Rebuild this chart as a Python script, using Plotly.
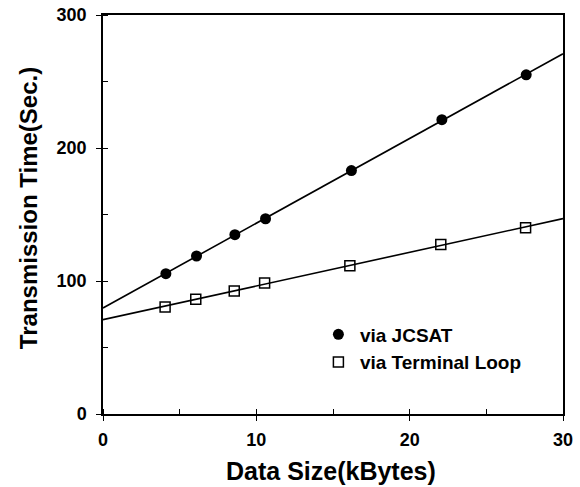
import numpy as np
import plotly.graph_objects as go

# Data
data_size = [4.1, 6.1, 8.6, 10.6, 16.2, 22.1, 27.6]             # kBytes
jcsat_time = [105.5, 118.8, 134.8, 146.8, 183.0, 221.3, 255.0]  # sec
loop_size = [4.05, 6.05, 8.56, 10.54, 16.1, 22.03, 27.56]
loop_time = [80.5, 86.3, 92.5, 98.5, 111.5, 127.5, 140.0]

x_range = [0, 30]
y_range = [0, 300]
x_ticks = [0, 10, 20, 30]
y_ticks = [0, 100, 200, 300]

FONT = "Liberation Sans, Arial, Helvetica, sans-serif"

# linear regression lines
jc_fit = np.polyfit(data_size, jcsat_time, 1)
lp_fit = np.polyfit(loop_size, loop_time, 1)
fit_x = np.array(x_range, dtype=float)

fig = go.Figure()
fig.add_trace(go.Scatter(x=fit_x, y=np.polyval(jc_fit, fit_x), mode="lines",
                         line=dict(color="black", width=1.6), showlegend=False,
                         hoverinfo="skip"))
fig.add_trace(go.Scatter(x=fit_x, y=np.polyval(lp_fit, fit_x), mode="lines",
                         line=dict(color="black", width=1.6), showlegend=False,
                         hoverinfo="skip"))
fig.add_trace(go.Scatter(x=data_size, y=jcsat_time, mode="markers", name="<b>via JCSAT</b>",
                         marker=dict(symbol="circle", size=11, color="black",
                                     line=dict(color="black", width=0))))
fig.add_trace(go.Scatter(x=loop_size, y=loop_time, mode="markers", name="<b>via Terminal Loop</b>",
                         marker=dict(symbol="square-open", size=10, color="black",
                                     line=dict(color="black", width=1.5))))

axis_common = dict(
    automargin=False,
    showgrid=False, zeroline=False, showline=True, linecolor="black", linewidth=1.5,
    mirror=True, ticks="outside", ticklen=5, tickwidth=1.2, tickcolor="black",
    tickfont=dict(family=FONT, size=18, color="black", weight="bold"),
)

fig.update_xaxes(range=x_range, tickvals=x_ticks, ticklabelstandoff=4,
                 minor=dict(ticks="inside", ticklen=5, tickwidth=1.2, tickcolor="black", dtick=5),
                 **axis_common)
fig.update_yaxes(range=y_range, tickvals=y_ticks, ticklabelstandoff=6,
                 minor=dict(ticks="inside", ticklen=5, tickwidth=1.2, tickcolor="black", dtick=50),
                 **axis_common)

fig.add_annotation(text="<b>Data Size(kBytes)</b>", xref="paper", yref="paper",
                   x=0.495, y=-0.142, xanchor="center", yanchor="middle",
                   showarrow=False, font=dict(family=FONT, size=25, color="black", weight="bold"))
fig.add_annotation(text="<b>Transmission Time(Sec.)</b>", xref="paper", yref="paper",
                   x=-0.163, y=0.516, xanchor="center", yanchor="middle", textangle=-90,
                   showarrow=False, font=dict(family=FONT, size=24, color="black", weight="bold"))

fig.update_layout(
    width=580, height=487,
    margin=dict(l=103, r=17, t=15, b=73, autoexpand=False),
    paper_bgcolor="white", plot_bgcolor="white",
    legend=dict(x=0.465, y=0.247, xanchor="left", yanchor="top", itemwidth=33,
                font=dict(family=FONT, size=19, color="black", weight="bold"),
                bgcolor="rgba(0,0,0,0)", tracegroupgap=0),
)

fig.write_html("out.html")
